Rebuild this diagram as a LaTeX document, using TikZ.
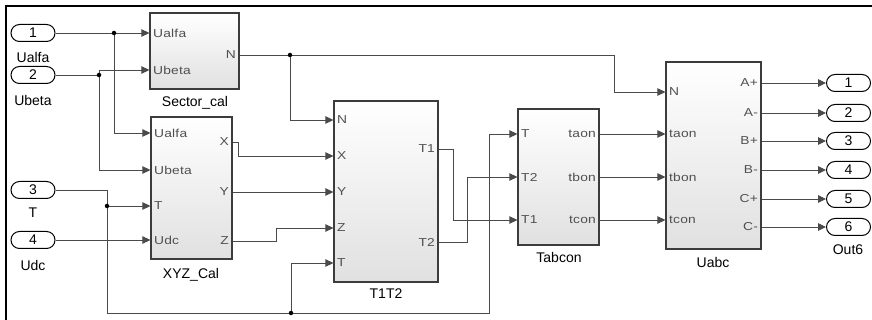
\documentclass[tikz,border=0pt]{standalone}
\usepackage{fontspec}
\setmainfont{Liberation Sans}
\newfontfamily\portfont[FakeStretch=1.2,LetterSpace=2]{Liberation Sans}
\usetikzlibrary{shapes.misc,arrows.meta,shadows}
\definecolor{wirec}{HTML}{4A4A4A}
\definecolor{edgec}{HTML}{3C3C3C}
\definecolor{portc}{HTML}{505050}
\tikzset{
  blk/.style={rectangle,draw=edgec,line width=1.2pt,top color=white,bottom color=gray!24,
    drop shadow={shadow xshift=1pt,shadow yshift=-1pt,opacity=0.35},inner sep=0pt},
  pill/.style={rounded rectangle,draw=black,line width=1pt,fill=white,minimum width=44pt,
    minimum height=17pt,inner sep=0pt,font=\fontsize{14}{15}\selectfont},
  wire/.style={draw=wirec,line width=0.9pt},
  arr/.style={-{Triangle[length=8pt,width=7.5pt]}},
  plab/.style={text=portc,inner xsep=3.5pt,inner ysep=0pt,font=\portfont\fontsize{11.5}{12}\selectfont},
  bname/.style={text=black,inner sep=0pt,font=\fontsize{14}{15}\selectfont},
  jdot/.style={circle,fill=black,inner sep=0pt,minimum size=4.5pt}
}
\begin{document}
\begin{tikzpicture}[x=1pt,y=-1pt]
\useasboundingbox (0,0) rectangle (872,320);
\fill[white] (0,0) rectangle (872,320);
% frame (top and left)
\draw[line width=1.6pt] (6,320) -- (6,6) -- (872,6);

% blocks
\node[blk,minimum width=89pt,minimum height=76pt] (sec) at (194.5,51) {};
\node[blk,minimum width=81pt,minimum height=142pt] (xyz) at (191.5,188) {};
\node[blk,minimum width=104pt,minimum height=181pt] (tt) at (386,191.5) {};
\node[blk,minimum width=81pt,minimum height=136pt] (tab) at (558.5,177) {};
\node[blk,minimum width=95pt,minimum height=187pt] (uabc) at (713.5,155.5) {};

\node[bname] (secname) at (195,103) {Sector\_cal};
\node[bname] (xyzname) at (191,275) {XYZ\_Cal};
\node[bname] (ttname) at (386,294) {T1T2};
\node[bname] (tabname) at (559,257) {Tabcon};
\node[bname] (uabcname) at (713,262) {Uabc};

% ports
\coordinate (sec-ua) at (sec.west |- 0,33);
\coordinate (sec-ub) at (sec.west |- 0,70);
\coordinate (sec-n) at (sec.east |- 0,55);
\coordinate (xyz-ua) at (xyz.west |- 0,133);
\coordinate (xyz-ub) at (xyz.west |- 0,170);
\coordinate (xyz-t) at (xyz.west |- 0,206);
\coordinate (xyz-udc) at (xyz.west |- 0,240);
\coordinate (xyz-x) at (xyz.east |- 0,142);
\coordinate (xyz-y) at (xyz.east |- 0,192);
\coordinate (xyz-z) at (xyz.east |- 0,241);
\coordinate (tt-n) at (tt.west |- 0,120);
\coordinate (tt-x) at (tt.west |- 0,156);
\coordinate (tt-y) at (tt.west |- 0,192);
\coordinate (tt-z) at (tt.west |- 0,228);
\coordinate (tt-t) at (tt.west |- 0,263);
\coordinate (tt-t1) at (tt.east |- 0,149);
\coordinate (tt-t2) at (tt.east |- 0,242);
\coordinate (tab-t) at (tab.west |- 0,134);
\coordinate (tab-t2) at (tab.west |- 0,177);
\coordinate (tab-t1) at (tab.west |- 0,220);
\coordinate (tab-a) at (tab.east |- 0,134);
\coordinate (tab-b) at (tab.east |- 0,177);
\coordinate (tab-c) at (tab.east |- 0,220);
\coordinate (ua-n) at (uabc.west |- 0,92);
\coordinate (ua-a) at (uabc.west |- 0,134);
\coordinate (ua-b) at (uabc.west |- 0,177);
\coordinate (ua-c) at (uabc.west |- 0,220);
\coordinate (ua-o1) at (uabc.east |- 0,83);
\coordinate (ua-o2) at (uabc.east |- 0,113);
\coordinate (ua-o3) at (uabc.east |- 0,141);
\coordinate (ua-o4) at (uabc.east |- 0,170);
\coordinate (ua-o5) at (uabc.east |- 0,199);
\coordinate (ua-o6) at (uabc.east |- 0,227);

% port labels
\node[plab,anchor=west] (l1) at (sec-ua) {Ualfa};
\node[plab,anchor=west] (l2) at (sec-ub) {Ubeta};
\node[plab,anchor=east] (l3) at (sec-n) {N};
\node[plab,anchor=west] (l4) at (xyz-ua) {Ualfa};
\node[plab,anchor=west] (l5) at (xyz-ub) {Ubeta};
\node[plab,anchor=west] (l6) at (xyz-t) {T};
\node[plab,anchor=west] (l7) at (xyz-udc) {Udc};
\node[plab,anchor=east] (l8) at (xyz-x) {X};
\node[plab,anchor=east] (l9) at (xyz-y) {Y};
\node[plab,anchor=east] (l10) at (xyz-z) {Z};
\node[plab,anchor=west] (l11) at (tt-n) {N};
\node[plab,anchor=west] (l12) at (tt-x) {X};
\node[plab,anchor=west] (l13) at (tt-y) {Y};
\node[plab,anchor=west] (l14) at (tt-z) {Z};
\node[plab,anchor=west] (l15) at (tt-t) {T};
\node[plab,anchor=east] (l16) at (tt-t1) {T1};
\node[plab,anchor=east] (l17) at (tt-t2) {T2};
\node[plab,anchor=west] (l18) at (tab-t) {T};
\node[plab,anchor=west] (l19) at (tab-t2) {T2};
\node[plab,anchor=west] (l20) at (tab-t1) {T1};
\node[plab,anchor=east] (l21) at (tab-a) {taon};
\node[plab,anchor=east] (l22) at (tab-b) {tbon};
\node[plab,anchor=east] (l23) at (tab-c) {tcon};
\node[plab,anchor=west] (l24) at (ua-n) {N};
\node[plab,anchor=west] (l25) at (ua-a) {taon};
\node[plab,anchor=west] (l26) at (ua-b) {tbon};
\node[plab,anchor=west] (l27) at (ua-c) {tcon};
\node[plab,anchor=east] (l28) at (ua-o1) {A+};
\node[plab,anchor=east] (l29) at (ua-o2) {A-};
\node[plab,anchor=east] (l30) at (ua-o3) {B+};
\node[plab,anchor=east] (l31) at (ua-o4) {B-};
\node[plab,anchor=east] (l32) at (ua-o5) {C+};
\node[plab,anchor=east] (l33) at (ua-o6) {C-};

% inports
\node[pill] (in1) at (33,33) {1};
\node[pill] (in2) at (33,75) {2};
\node[pill] (in3) at (33,190) {3};
\node[pill] (in4) at (33,240) {4};
\node[bname] (in1n) at (33,57) {Ualfa};
\node[bname] (in2n) at (33,100) {Ubeta};
\node[bname] (in3n) at (33,213) {T};
\node[bname] (in4n) at (33,265) {Udc};

% outports
\node[pill] (out1) at (848.5,83) {1};
\node[pill] (out2) at (848.5,113) {2};
\node[pill] (out3) at (848.5,141) {3};
\node[pill] (out4) at (848.5,170) {4};
\node[pill] (out5) at (848.5,199) {5};
\node[pill] (out6) at (848.5,227) {6};
\node[bname] (outn) at (848,250) {Out6};

% junctions and bends
\coordinate (j1) at (114,33);
\coordinate (j2) at (99,75);
\coordinate (j3) at (107,206);
\coordinate (j4) at (291,313);
\coordinate (j5) at (290,55);
\coordinate (b3) at (489,134);
\coordinate (b5) at (614,92);
\coordinate (b6) at (238,156);
\coordinate (b8) at (276,228);
\coordinate (b9) at (453,220);
\coordinate (b10) at (467,177);

% wires
\draw[wire,arr] (in1.east) -- (sec-ua);
\draw[wire,arr] (j1) |- (xyz-ua);
\draw[wire] (in2.east) -- (j2);
\draw[wire,arr] (j2) |- (sec-ub);
\draw[wire,arr] (j2) |- (xyz-ub);
\draw[wire] (in3.east) -| (j3);
\draw[wire,arr] (j3) -- (xyz-t);
\draw[wire] (j3) |- (j4);
\draw[wire,arr] (j4) |- (tt-t);
\draw[wire,arr] (j4) -| (b3) -- (tab-t);
\draw[wire,arr] (in4.east) -- (xyz-udc);
\draw[wire] (sec-n) -- (j5);
\draw[wire,arr] (j5) -| (b5) -- (ua-n);
\draw[wire,arr] (j5) |- (tt-n);
\draw[wire,arr] (xyz-x) -| (b6) -- (tt-x);
\draw[wire,arr] (xyz-y) -- (tt-y);
\draw[wire,arr] (xyz-z) -| (b8) -- (tt-z);
\draw[wire,arr] (tt-t1) -| (b9) -- (tab-t1);
\draw[wire,arr] (tt-t2) -| (b10) -- (tab-t2);
\draw[wire,arr] (tab-a) -- (ua-a);
\draw[wire,arr] (tab-b) -- (ua-b);
\draw[wire,arr] (tab-c) -- (ua-c);
\draw[wire,arr] (ua-o1) -- (out1.west);
\draw[wire,arr] (ua-o2) -- (out2.west);
\draw[wire,arr] (ua-o3) -- (out3.west);
\draw[wire,arr] (ua-o4) -- (out4.west);
\draw[wire,arr] (ua-o5) -- (out5.west);
\draw[wire,arr] (ua-o6) -- (out6.west);

\node[jdot] (d1) at (j1) {};
\node[jdot] (d2) at (j2) {};
\node[jdot] (d3) at (j3) {};
\node[jdot] (d4) at (j4) {};
\node[jdot] (d5) at (j5) {};
\end{tikzpicture}
\end{document}
